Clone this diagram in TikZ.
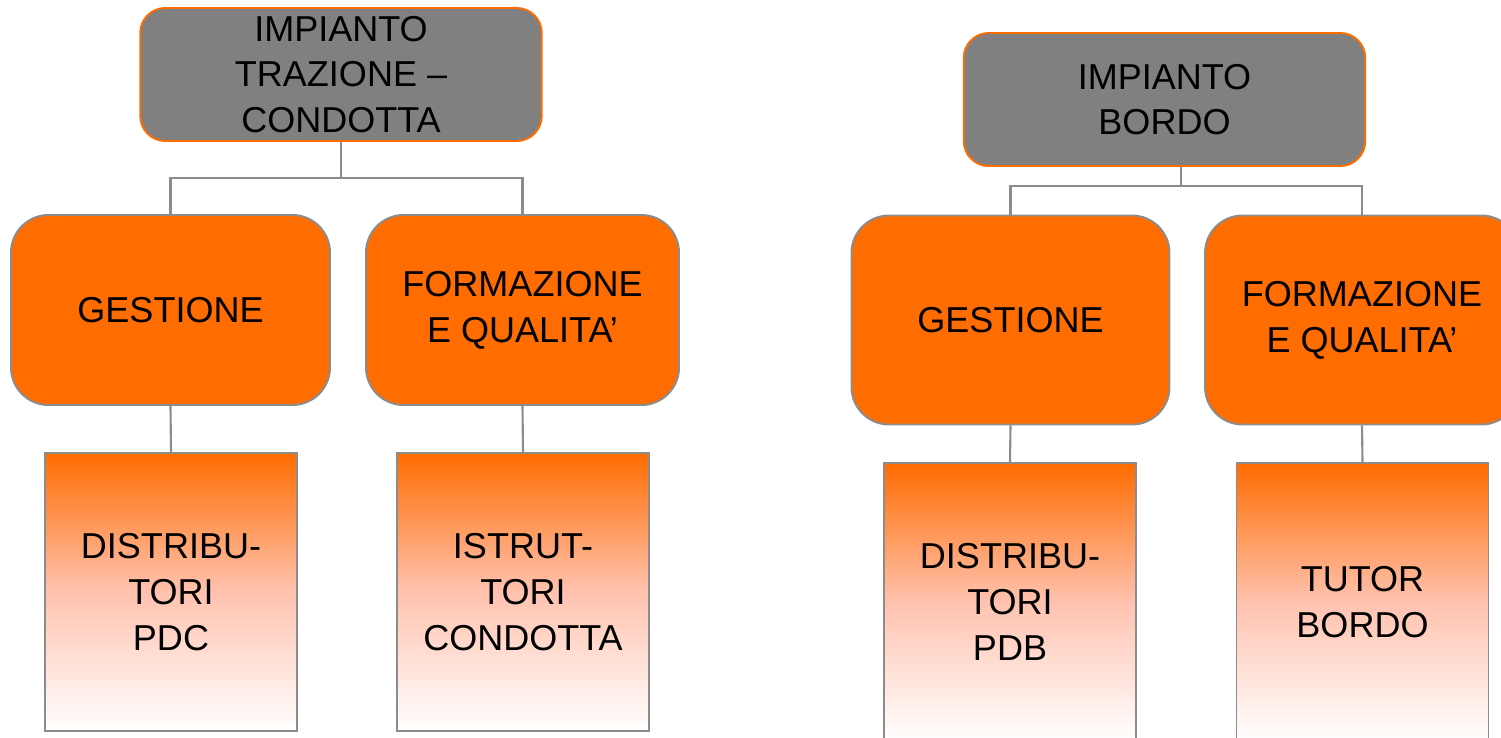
\documentclass[tikz,border=0pt]{standalone}
\usepackage{fontspec}
\setmainfont{Liberation Sans}
\definecolor{trenorange}{RGB}{255,108,0}
\definecolor{trengray}{RGB}{128,128,128}
\definecolor{trenline}{RGB}{140,140,140}
\definecolor{trensalmon}{RGB}{255,194,175}
\tikzset{boxdim/.style 2 args={minimum width=#1cm,minimum height=#2cm}}% width, height

\begin{document}
\begin{tikzpicture}[
    every node/.style={font=\fontsize{20.5}{26}\selectfont,align=center,inner sep=0pt},
    headbox/.style={draw=trenorange,fill=trengray,line width=1.1pt,rounded corners=0.5cm,boxdim={8.03}{2.66}},
    areabox/.style={draw=trenline,fill=trenorange,line width=1.1pt,rounded corners=0.75cm},
    rolebox/.style={draw=trenline,line width=1.1pt,top color=trenorange,bottom color=white,middle color=trensalmon,boxdim={5.04}{5.56}},
    link/.style={draw=trenline,line width=1.2pt}
  ]
  \useasboundingbox (0,0) rectangle (30.02,-14.74);
  % trazione - condotta
  \node[headbox] (topL) at (6.82,-1.49) {IMPIANTO\\TRAZIONE --\\CONDOTTA};
  \node[areabox,boxdim={6.38}{3.8}] (gesL) at (3.41,-6.2) {GESTIONE};
  \node[areabox,boxdim={6.26}{3.8}] (forL) at (10.45,-6.2) {FORMAZIONE\\E QUALITA’};
  \node[rolebox] (disL) at (3.42,-11.84) {DISTRIBU-\\TORI\\PDC};
  \node[rolebox] (istL) at (10.46,-11.84) {ISTRUT-\\TORI\\CONDOTTA};
  \coordinate (busL) at (6.82,-3.56);
  \draw[link] (topL.south) -- (busL);
  \draw[link] (gesL.north) |- (busL) -| (forL.north);
  \draw[link] (gesL.south) -- (disL.north);
  \draw[link] (forL.south) -- (istL.north);
  % bordo
  \node[headbox] (topR) at (23.29,-1.99) {IMPIANTO\\BORDO};
  \node[areabox,boxdim={6.36}{4.18}] (gesR) at (20.21,-6.4) {GESTIONE};
  \node[areabox,boxdim={6.28}{4.18}] (forR) at (27.24,-6.4) {FORMAZIONE\\E QUALITA’};
  \node[rolebox] (disR) at (20.2,-12.04) {DISTRIBU-\\TORI\\PDB};
  \node[rolebox] (tutR) at (27.25,-12.04) {TUTOR\\BORDO};
  \coordinate (busR) at (23.62,-3.72);
  \draw[link] (topR.south -| busR) -- (busR);
  \draw[link] (gesR.north) |- (busR) -| (forR.north);
  \draw[link] (gesR.south) -- (disR.north);
  \draw[link] (forR.south) -- (tutR.north);
\end{tikzpicture}
\end{document}
